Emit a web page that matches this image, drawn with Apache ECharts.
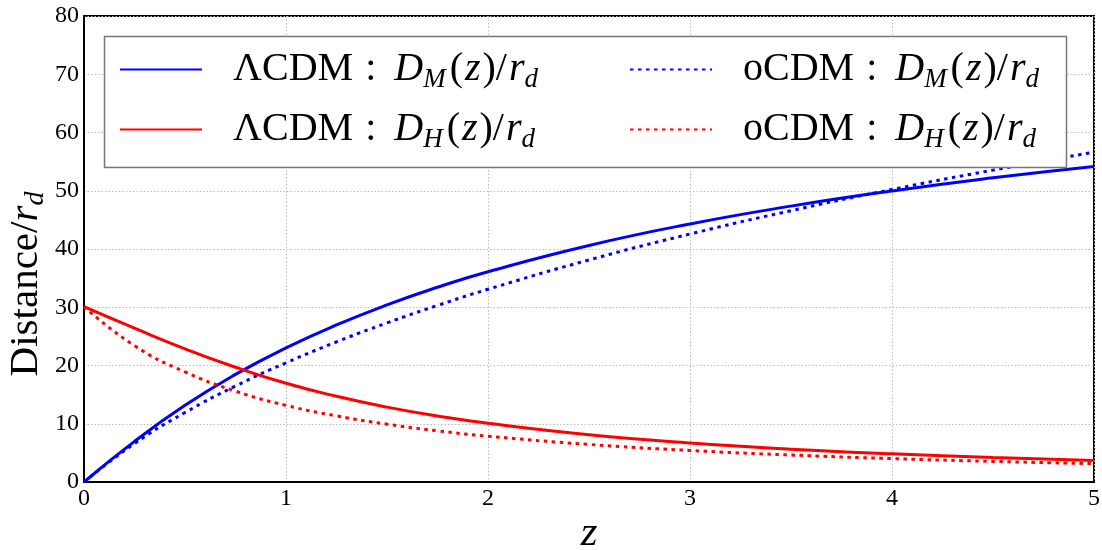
<!DOCTYPE html>
<html><head><meta charset="utf-8">
<script src="https://cdn.jsdelivr.net/npm/echarts@6/dist/echarts.min.js"></script>
<style>html,body{margin:0;padding:0;background:#fff}#c{width:1102px;height:550px}</style>
</head><body><div id="c"></div>
<script>
// redshift samples
const zValues = [0, 0.25, 0.5, 0.75, 1, 1.25, 1.5, 1.75, 2, 2.5, 3, 3.5, 4, 4.5, 5];
// ΛCDM
const lcdmDM = [0, 6.98, 13.16, 18.47, 23.02, 26.96, 30.41, 33.43, 36.10, 40.61, 44.30, 47.36, 49.97, 52.22, 54.17];
const lcdmDH = [30.1, 26.4, 22.85, 19.7, 16.95, 14.71, 12.85, 11.33, 10.07, 8.11, 6.69, 5.63, 4.83, 4.20, 3.68];
// oCDM
const ocdmDM = [0, 6.60, 11.92, 16.48, 20.46, 24.05, 27.31, 30.31, 33.09, 38.12, 42.57, 46.58, 50.22, 53.54, 56.62];
const ocdmDH = [30.1, 23.4, 18.9, 15.6, 13.15, 11.35, 9.92, 8.79, 7.87, 6.45, 5.41, 4.63, 4.02, 3.54, 3.15];

const seriesNames = ['ΛCDM_DM', 'oCDM_DM', 'ΛCDM_DH', 'oCDM_DH'];
const xTicks = [0, 1, 2, 3, 4, 5];
const yTicks = [0, 10, 20, 30, 40, 50, 60, 70, 80];

const SERIF = "'Liberation Serif', 'DejaVu Serif', serif";
const pair = arr => zValues.map((z, i) => [z, arr[i]]);

const mathTail = sub => '{i|D}{s|' + sub + '}{u|(}{i|z}{u|)/}{i|r}{s|d}';
const legendLabels = {
  'ΛCDM_DM': '{a|ΛCDM}{c|:}' + mathTail('M'),
  'ΛCDM_DH': '{a|ΛCDM}{c|:}' + mathTail('H'),
  'oCDM_DM': '{a|oCDM}{c|:}' + mathTail('M'),
  'oCDM_DH': '{a|oCDM}{c|:}' + mathTail('H')
};
const legendTextStyle = {
  fontFamily: SERIF, fontSize: 40, color: '#000', padding: [0, 0, 0, 26],
  rich: {
    a: { fontFamily: SERIF, fontSize: 40, lineHeight: 44, color: '#000' },
    c: { fontFamily: SERIF, fontSize: 40, lineHeight: 44, color: '#000', padding: [0, 18, 0, 12] },
    u: { fontFamily: SERIF, fontSize: 40, lineHeight: 44, color: '#000', padding: [0, 2, 0, 2] },
    i: { fontFamily: SERIF, fontSize: 40, lineHeight: 44, fontStyle: 'italic', color: '#000' },
    s: { fontFamily: SERIF, fontSize: 27, lineHeight: 27, fontStyle: 'italic', color: '#000', padding: [20, 2, 0, 0] }
  }
};
function mkLegend(left, names) {
  return {
    left: left, top: 46, padding: 0, orient: 'vertical', itemWidth: 82, itemHeight: 14, itemGap: 13,
    data: names, formatter: n => legendLabels[n], textStyle: legendTextStyle,
    itemStyle: { opacity: 0 },
    selectedMode: false, z: 10
  };
}

function mkSeries(name, arr, color, dotted) {
  return {
    name: name, type: 'line', data: pair(arr), smooth: true,
    symbol: 'none', showSymbol: false, z: 2,
    lineStyle: { color: color, width: 3, type: dotted ? [3.5, 4.5] : 'solid', cap: 'butt' },
    itemStyle: { color: color }
  };
}

const chart = echarts.init(document.getElementById('c'), null, { renderer: 'canvas' });
chart.setOption({
  animation: false,
  backgroundColor: '#fff',
  grid: {
    left: 84, right: 8, top: 16, bottom: 68, containLabel: false, outerBoundsMode: 'none',
    show: true, borderColor: '#000', borderWidth: 2, backgroundColor: 'transparent'
  },
  xAxis: {
    type: 'value', min: xTicks[0], max: xTicks[xTicks.length - 1], interval: 1,
    name: '{i|z}', nameLocation: 'middle', nameGap: 30, nameMoveOverlap: false,
    nameTextStyle: { rich: { i: { fontFamily: SERIF, fontSize: 43, fontStyle: 'italic', color: '#000' } } },
    axisLine: { show: true, lineStyle: { color: '#000', width: 2 } },
    axisTick: { show: false },
    axisLabel: { fontFamily: SERIF, fontSize: 24, color: '#000', margin: 5 },
    splitLine: { show: true, lineStyle: { color: '#bbb', type: [1.5, 2], width: 1 } }
  },
  yAxis: {
    type: 'value', min: yTicks[0], max: yTicks[yTicks.length - 1], interval: 10,
    name: '{a|Distance/}{i|r}{s|d}', nameLocation: 'middle', nameGap: 36, nameRotate: 90,
    nameMoveOverlap: false,
    nameTextStyle: {
      padding: [0, 70, 0, 0],
      rich: {
        a: { fontFamily: SERIF, fontSize: 41, lineHeight: 44, color: '#000' },
        i: { fontFamily: SERIF, fontSize: 41, lineHeight: 44, fontStyle: 'italic', color: '#000' },
        s: { fontFamily: SERIF, fontSize: 28, lineHeight: 28, fontStyle: 'italic', color: '#000', padding: [20, 0, 0, 0] }
      }
    },
    axisLine: { show: true, lineStyle: { color: '#000', width: 2 } },
    axisTick: { show: false },
    axisLabel: { fontFamily: SERIF, fontSize: 24, color: '#000', margin: 5 },
    splitLine: { show: true, lineStyle: { color: '#bbb', type: [1.5, 2], width: 1 } }
  },
  legend: [mkLegend(119, [seriesNames[0], seriesNames[2]]), mkLegend(629, [seriesNames[1], seriesNames[3]])],
  graphic: [{
    type: 'rect', z: 5, silent: true,
    shape: { x: 104.5, y: 36.5, width: 962, height: 131 },
    style: { fill: '#fff', stroke: '#777', lineWidth: 1.5 }
  }],
  series: [
    mkSeries(seriesNames[0], lcdmDM, '#0000ff', false),
    mkSeries(seriesNames[1], ocdmDM, '#0000ff', true),
    mkSeries(seriesNames[2], lcdmDH, '#ff0000', false),
    mkSeries(seriesNames[3], ocdmDH, '#ff0000', true)
  ]
});
</script></body></html>
